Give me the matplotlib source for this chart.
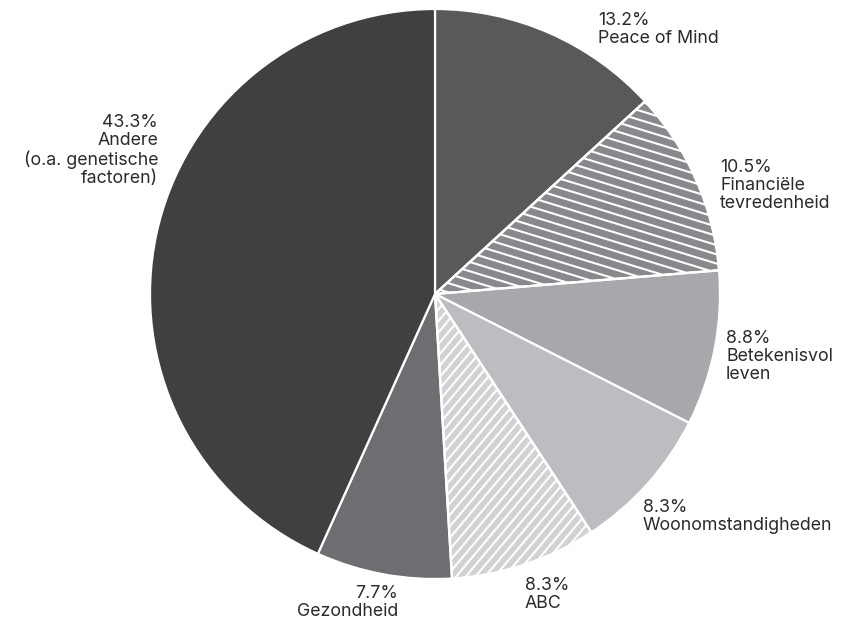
import numpy as np
import matplotlib
matplotlib.use('Agg')
import matplotlib.pyplot as plt

# Share of happiness explained by each factor (%)
labels = ['Peace of Mind', 'Financiële\ntevredenheid', 'Betekenisvol\nleven',
          'Woonomstandigheden', 'ABC', 'Gezondheid',
          'Andere\n(o.a. genetische\nfactoren)']
values = [13.2, 10.5, 8.8, 8.3, 8.3, 7.7, 43.3]
colors = ['#58595b', '#88898c', '#a7a8ab', '#bcbdc0', '#d1d2d4', '#6d6e71', '#404041']

# hatch angle (deg) and spacing per slice, None = solid
hatch_angles = [None, -17, None, None, 50, None, None]
hatch_spacing = [None, 0.031, None, None, 0.026, None, None]

plt.rcParams['font.family'] = ['Inter', 'DejaVu Sans']

W, H = 846, 623
cx, cy, R = 435, 294, 285

# label anchors in pixels (x of aligned edge, top of first line)
label_px = [(598, 15), (720, 162), (726, 333), (643, 502),
            (525, 580), (398, 588), (158, 117)]
label_ha = ['left', 'left', 'left', 'left', 'left', 'right', 'right']

fig = plt.figure(figsize=(W / 100, H / 100), dpi=100)
ax = fig.add_axes([0, 0, 1, 1])

wedges, _ = ax.pie(values, colors=colors, startangle=90, counterclock=False,
                   radius=1, wedgeprops=dict(edgecolor='white', linewidth=1.6))

# custom hatching clipped to the wedge
for w, ang, sp in zip(wedges, hatch_angles, hatch_spacing):
    if ang is None:
        continue
    a = np.deg2rad(ang)
    d = np.array([np.cos(a), np.sin(a)])
    n = np.array([-np.sin(a), np.cos(a)])
    for k in np.arange(-1.5, 1.5, sp):
        p0 = n * k - d * 2
        p1 = n * k + d * 2
        ln, = ax.plot([p0[0], p1[0]], [p0[1], p1[1]], color='white', lw=1.5,
                      solid_capstyle='butt')
        ln.set_clip_path(w)
    ax.add_patch(plt.Polygon(w.get_path().vertices, closed=True, fill=False,
                             transform=w.get_transform(), edgecolor='white', lw=1.6))

for lab, val, (px, py), ha in zip(labels, values, label_px, label_ha):
    x = (px - cx) / R
    y = (cy - py + 3) / R
    ax.text(x, y, f'{val}%\n{lab}', ha=ha, va='top', fontsize=12.8,
            color='#2b2b2b', linespacing=1.08, multialignment=ha)

ax.set_xlim(-cx / R, (W - cx) / R)
ax.set_ylim(-(H - cy) / R, cy / R)
ax.set_aspect('auto')
ax.axis('off')

fig.savefig('out.png', dpi=100)
